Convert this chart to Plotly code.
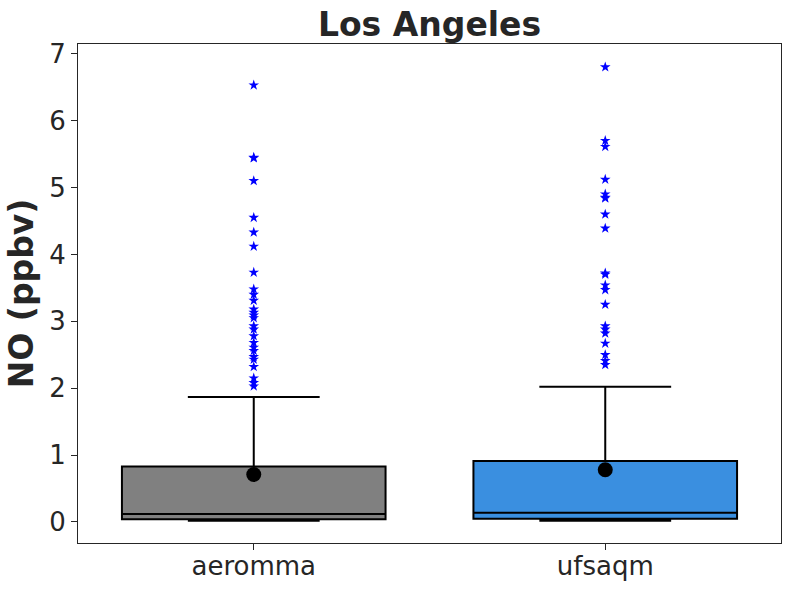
import plotly.graph_objects as go

categories = ["aeromma", "ufsaqm"]
colors = ["#808080", "#3a8fe0"]
q1 = [0.04, 0.05]
median = [0.12, 0.14]
q3 = [0.83, 0.91]
lowerfence = [0.02, 0.02]
upperfence = [1.87, 2.02]
means = [0.71, 0.78]

outliers_aeromma = [6.53, 5.45, 5.44, 5.10, 4.55, 4.33, 4.12, 3.73, 3.48, 3.40, 3.31,
                    3.18, 3.13, 3.09, 3.05, 2.93, 2.88, 2.78, 2.68, 2.61, 2.56, 2.47,
                    2.43, 2.32, 2.15, 2.08, 2.03]
outliers_ufsaqm = [6.80, 5.70, 5.61, 5.12, 4.90, 4.85, 4.84, 4.60, 4.39, 3.72, 3.70, 3.54,
                   3.47, 3.25, 2.93, 2.88, 2.82, 2.67, 2.50, 2.41, 2.35]
outliers = [outliers_aeromma, outliers_ufsaqm]

fig = go.Figure()
for i, cat in enumerate(categories):
    fig.add_trace(go.Box(
        x=[cat], q1=[q1[i]], median=[median[i]], q3=[q3[i]],
        lowerfence=[lowerfence[i]], upperfence=[upperfence[i]],
        fillcolor=colors[i], line=dict(color="black", width=2),
        width=0.75, whiskerwidth=0.5, boxpoints=False, showlegend=False,
    ))
    fig.add_trace(go.Scatter(
        x=[cat] * len(outliers[i]), y=outliers[i], mode="markers",
        marker=dict(symbol="star", size=8, color="blue"), showlegend=False,
    ))
fig.add_trace(go.Scatter(
    x=categories, y=means, mode="markers",
    marker=dict(symbol="circle", size=15, color="black"), showlegend=False,
))

fig.update_layout(
    width=791, height=591,
    margin=dict(l=78, r=10, t=44, b=48),
    paper_bgcolor="white", plot_bgcolor="white",
    font=dict(family="DejaVu Sans", size=26, color="#262626"),
    title=dict(text="<b>Los Angeles</b>", x=(78 + 781) / 2 / 791, xanchor="center",
               y=1 - 24 / 591, yanchor="middle", font=dict(size=33, color="#262626")),
)
fig.update_xaxes(
    type="category", range=[-0.5, 1.5], showline=True, mirror=True,
    linecolor="#262626", linewidth=1, ticks="outside", ticklen=6,
    tickcolor="#262626", showgrid=False, automargin=False, ticklabelstandoff=-6,
)
fig.update_yaxes(
    range=[-0.314, 7.145], tickvals=[0, 1, 2, 3, 4, 5, 6, 7],
    showline=True, mirror=True, linecolor="#262626", linewidth=1,
    ticks="outside", ticklen=6, tickcolor="#262626", showgrid=False, zeroline=False,
    automargin=False,
    title=dict(text="<b>NO (ppbv)</b>", font=dict(size=33), standoff=5),
)
fig.write_html("out.html")
